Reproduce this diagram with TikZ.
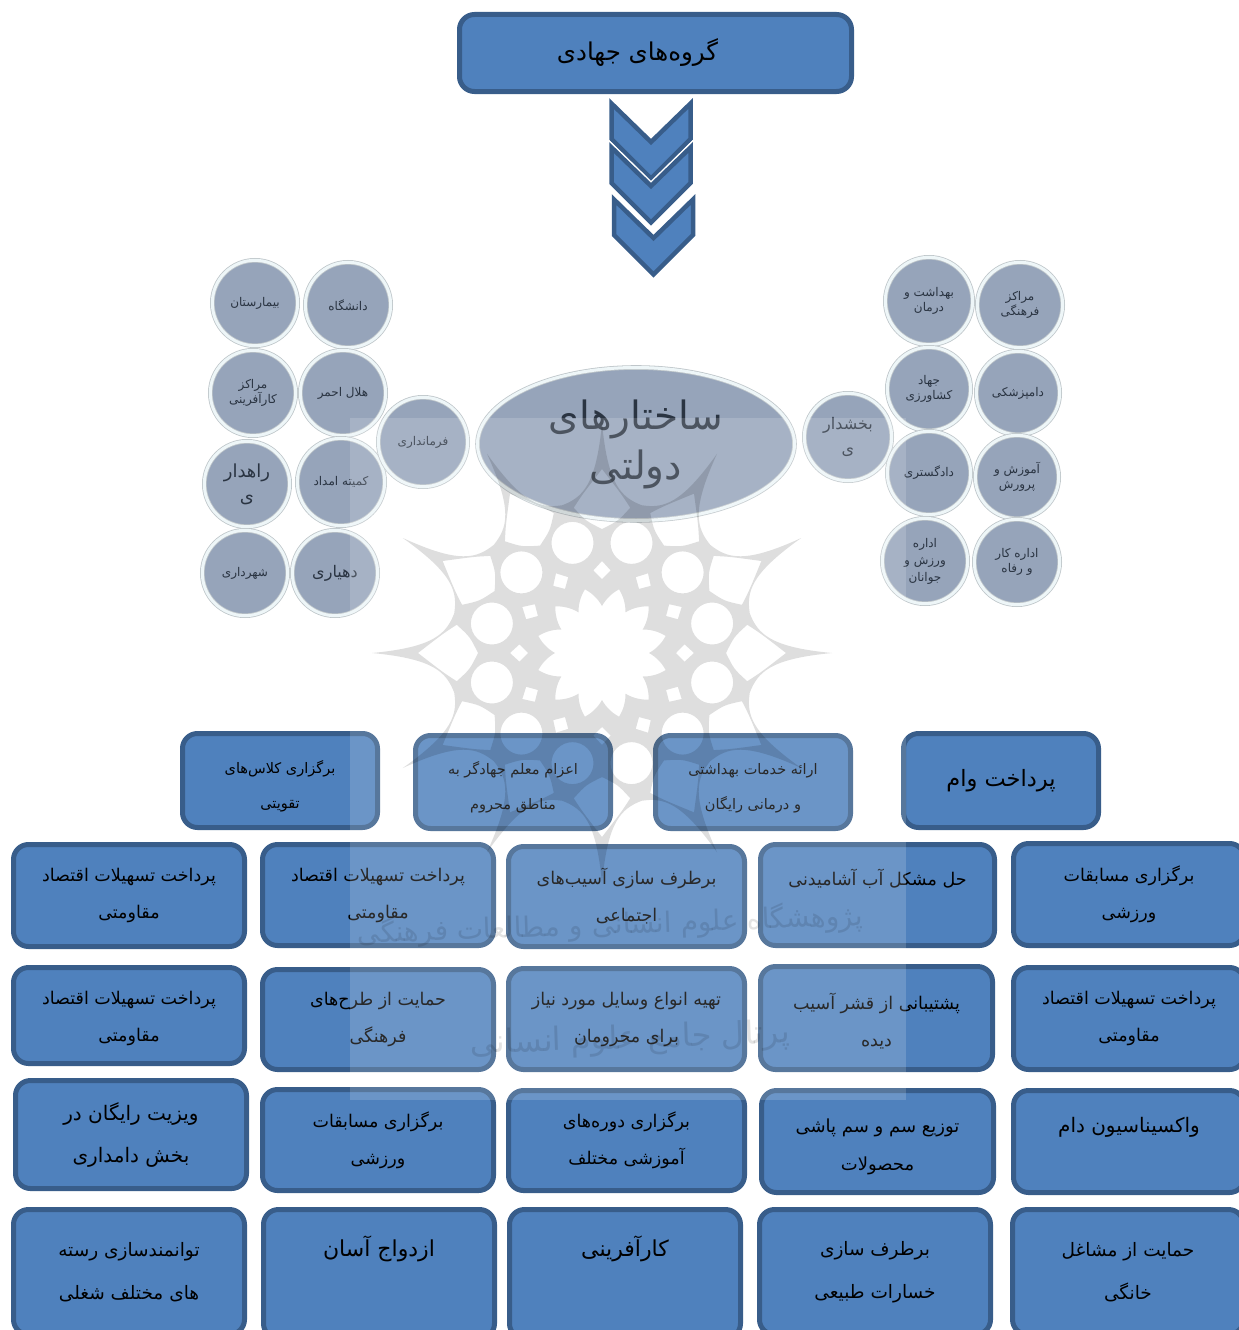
\documentclass[tikz,border=0pt]{standalone}
\usepackage{fontspec}
\usetikzlibrary{shapes.geometric}
\TeXXeTstate=1
\newfontfamily\arabicfont[Script=Arabic]{DejaVu Sans}
\definecolor{boxfill}{HTML}{4F81BD}
\definecolor{boxline}{HTML}{385D8A}
\definecolor{discfill}{HTML}{96A4BA}
\definecolor{discline}{HTML}{BFC6CA}
\definecolor{discring}{HTML}{EEF6F8}
\definecolor{disctext}{HTML}{2A3442}
\newcommand\fa[1]{\beginR #1\endR}
\newcommand\tp[1]{\rule{0pt}{#1pt}}
\tikzset{
  fs/.style 2 args={font=\arabicfont\fontsize{#1}{#2}\selectfont},
  bluebox/.style={rectangle,rounded corners=15pt,draw=boxline,fill=boxfill,line width=5pt,
    inner sep=0pt,align=center,text=black,fs={17.5}{37}},
  disc/.style={circle,draw=discline,fill=discfill,line width=.8pt,double=discring,double distance=3pt,
    inner sep=0pt,align=center,text=disctext,fs={12}{15}},
  chevshape/.style={draw=boxline,fill=boxfill,line width=4.5pt,line join=miter},
}
\newcommand\bx[7][]{%
  \pgfmathsetmacro\bw{#5-#3-5}\pgfmathsetmacro\bh{#6-#4-5}%
  \pgfmathsetmacro\bcx{(#3+#5)/2}\pgfmathsetmacro\bcy{(#4+#6)/2}%
  \node[bluebox,minimum width=\bw pt,minimum height=\bh pt,#1] (#2) at (\bcx,\bcy) {#7};}
\newcommand\cn[6][]{%
  \pgfmathsetmacro\bd{2*(#5-2.3)}%
  \node[disc,minimum size=\bd pt,#1] (#2) at (#3,#4) {#6};}
\newcommand\chev[3][]{%
  \draw[chevshape,#1] (#2-39.5,#3+4.5) -- (#2,#3+43) -- (#2+39.5,#3+4.5) -- (#2+39.5,#3+40) -- (#2,#3+79.5) -- (#2-39.5,#3+40) -- cycle;}
\begin{document}
\begin{tikzpicture}[x=1pt,y=-1pt]
\useasboundingbox (0,0) rectangle (1239,1330);
\clip (0,0) rectangle (1239,1330);
% top title
\bx[fs={24.5}{28}]{title}{457}{12}{854}{94}{\fa{گروه‌های جهادی}\hspace*{36pt}}
% chevrons
\chev{651}{99}
\chev[preaction={draw=white,line width=7.5pt}]{651}{143}
\chev[preaction={draw=white,line width=10.5pt}]{653.5}{195}
% central ellipse
\node[ellipse,draw=discline,fill=discfill,line width=.8pt,double=discring,double distance=3pt,
  minimum width=317pt,minimum height=153pt,inner sep=0pt,align=center,text=disctext,fs={39}{50}]
  (main) at (636,444) {\fa{ساختارهای}\\\fa{دولتی}};
% left discs
\cn{d1}{255}{303}{45}{\fa{بیمارستان}}
\cn{d2}{348}{305}{45}{\fa{دانشگاه}}
\cn{d3}{253}{393}{45}{\fa{مراکز}\\\fa{کارآفرینی}}
\cn{d4}{343}{393}{45}{\fa{هلال احمر}}
\cn[fs={18}{25}]{d5}{247}{484}{45}{\fa{راهدار}\\\fa{ی}}
\cn{d6}{341}{482}{46}{\fa{کمیته امداد}}
\cn{d7}{245}{573}{45}{\fa{شهرداری}}
\cn[fs={16}{18}]{d8}{335}{573}{45}{\fa{دهیاری}}
\cn{d9}{423}{442}{47}{\fa{فرمانداری}}
% right discs
\cn{e1}{929}{301}{46}{\fa{بهداشت و}\\\fa{درمان}}
\cn{e2}{1020}{305}{45}{\fa{مراکز}\\\fa{فرهنگی}}
\cn{e3}{929}{389}{44}{\fa{جهاد}\\\fa{کشاورزی}}
\cn{e4}{1018}{393}{44}{\fa{دامپزشکی}}
\cn[fs={16}{25}]{e5}{848}{437}{46}{\fa{بخشدار}\\\fa{ی}}
\cn{e6}{929}{473}{44}{\fa{دادگستری}}
\cn{e7}{1017}{477}{44}{\fa{آموزش و}\\\fa{پرورش}}
\cn[fs={12}{17}]{e8}{925}{561}{45}{\fa{اداره}\\\fa{ورزش و}\\\fa{جوانان}}
\cn{e9}{1017}{562}{45}{\fa{اداره کار}\\\fa{و رفاه}}
% row A
\bx[fs={14.5}{35}]{a1}{180}{731}{380}{830}{\tp{24}\fa{برگزاری کلاس‌های}\\\fa{تقویتی}}
\bx[fs={14.5}{35}]{a2}{413}{733}{613}{831}{\tp{24}\fa{اعزام معلم جهادگر به}\\\fa{مناطق محروم}}
\bx[fs={14.5}{35}]{a3}{653}{733}{853}{831}{\tp{24}\fa{ارائه خدمات بهداشتی}\\\fa{و درمانی رایگان}}
\bx[fs={22.5}{35}]{a4}{901}{731}{1101}{830}{\fa{پرداخت وام}}
% row B
\bx{b1}{11}{842}{247}{949}{\fa{پرداخت تسهیلات اقتصاد}\\\fa{مقاومتی}}
\bx{b2}{260}{842}{496}{948}{\fa{پرداخت تسهیلات اقتصاد}\\\fa{مقاومتی}}
\bx{b3}{506}{844}{747}{949}{\fa{برطرف سازی آسیب‌های}\\\fa{اجتماعی}}
\bx[fs={17.5}{27}]{b4}{758}{842}{997}{948}{\fa{حل مشکل آب آشامیدنی}\\\strut}
\bx{b5}{1011}{841}{1247}{948}{\fa{برگزاری مسابقات}\\\fa{ورزشی}}
% row C
\bx{c1}{11}{965}{247}{1066}{\tp{20}\fa{پرداخت تسهیلات اقتصاد}\\\fa{مقاومتی}}
\bx{c2}{260}{967}{496}{1072}{\fa{حمایت از طرح‌های}\\\fa{فرهنگی}}
\bx{c3}{506}{966}{747}{1072}{\fa{تهیه انواع وسایل مورد نیاز}\\\fa{برای محرومان}}
\bx{c4}{758}{964}{995}{1072}{\tp{22}\fa{پشتیبانی از قشر آسیب}\\\fa{دیده}}
\bx{c5}{1011}{965}{1247}{1072}{\fa{پرداخت تسهیلات اقتصاد}\\\fa{مقاومتی}}
% row D
\bx[fs={20}{42}]{f1}{13}{1078}{249}{1191}{\fa{ویزیت رایگان در}\\\fa{بخش دامداری}}
\bx{f2}{260}{1087}{496}{1193}{\fa{برگزاری مسابقات}\\\fa{ورزشی}}
\bx{f3}{506}{1088}{747}{1193}{\fa{برگزاری دوره‌های}\\\fa{آموزشی مختلف}}
\bx[fs={18}{38}]{f4}{759}{1088}{996}{1195}{\tp{24}\fa{توزیع سم و سم پاشی}\\\fa{محصولات}}
\bx[fs={20}{26}]{f5}{1011}{1088}{1247}{1195}{\fa{واکسیناسیون دام}\\\strut}
% row E
\bx[fs={18.5}{43}]{g1}{11}{1207}{247}{1337}{\fa{توانمندسازی رسته}\\\fa{های مختلف شغلی}}
\bx[fs={22}{43}]{g2}{261}{1207}{497}{1341}{\fa{ازدواج آسان}\\\strut}
\bx[fs={22}{43}]{g3}{507}{1207}{743}{1341}{\fa{کارآفرینی}\\\strut}
\bx[fs={18.5}{43}]{g4}{757}{1207}{993}{1337}{\fa{برطرف سازی}\\\fa{خسارات طبیعی}}
\bx[fs={18.5}{43}]{g5}{1010}{1207}{1246}{1337}{\fa{حمایت از مشاغل}\\\fa{خانگی}}
% watermark
\fill[white,fill opacity=.16] (350,418) rectangle (906,1100);
\begin{scope}[shift={(602,653)}]
\fill[black,fill opacity=.13,even odd rule]
  (0:230) foreach \a in {0,30,...,330}{
     .. controls (\a+2:168) and (\a+7:157) .. (\a+15:153)
     .. controls (\a+23:157) and (\a+28:168) .. (\a+30:230)
  } -- cycle
  foreach \a in {0,30,...,330}{
    (\a+15:114) circle (21)
    (\a:124) .. controls (\a+7:133) .. (\a+11:148) .. controls (\a+7:160) .. (\a:184)
             .. controls (\a-7:160) .. (\a-11:148) .. controls (\a-7:133) .. cycle
    (\a:74) -- (\a+6:83) -- (\a:92) -- (\a-6:83) -- cycle
  }
  (0:47) foreach \a in {0,30,...,330}{
     .. controls (\a+5:56) and (\a+11:62) .. (\a+15:66)
     .. controls (\a+19:62) and (\a+25:56) .. (\a+30:47)
  } -- cycle;
\end{scope}
\node[rotate=2,text=black,opacity=.11,fs={28}{40}] (wm1) at (610,925) {\fa{پژوهشگاه علوم انسانی و مطالعات فرهنگی}};
\node[rotate=2,text=black,opacity=.11,fs={32}{40}] (wm2) at (630,1040) {\fa{پرتال جامع علوم انسانی}};
\end{tikzpicture}
\end{document}
